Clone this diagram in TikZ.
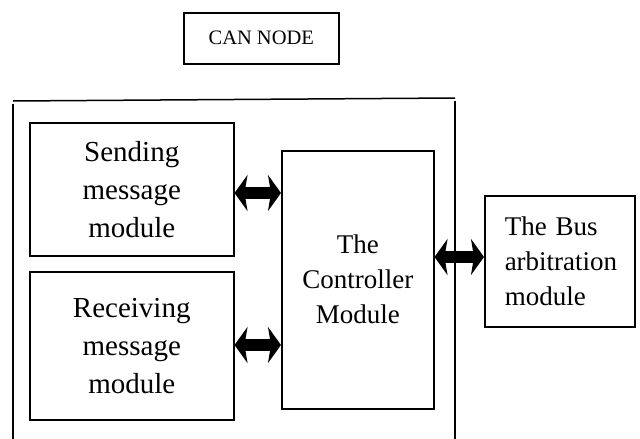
\documentclass[tikz,border=0pt]{standalone}
\usepackage{fontspec}
\setmainfont{Liberation Serif}
\usetikzlibrary{arrows.meta}
\begin{document}
\begin{tikzpicture}[x=1pt,y=-1pt,
  box/.style={draw=black,line width=1.5pt,rectangle,anchor=north west,inner sep=0pt,align=center},
  bigtext/.style={font=\fontsize{29}{38}\selectfont},
  midtext/.style={font=\fontsize{27}{35}\selectfont},
  dbl/.style={line width=12pt,{Stealth[length=13pt,width=36pt,inset=3pt]}-{Stealth[length=13pt,width=36pt,inset=3pt]}},
  frame/.style={line width=1.5pt}]
\useasboundingbox (0,0) rectangle (640,439);
\fill[white] (0,0) rectangle (640,439);
% CAN node label
\node[box,minimum width=155pt,minimum height=51pt,font=\fontsize{20.5}{24}\selectfont] (can) at (183,12) {CAN NODE};
% outer frame
\draw[frame] (13,101) -- (455,98);
\draw[frame] (13,104) -- (13,439);
\draw[frame] (455,101) -- (455,439);
% modules
\node[box,bigtext,minimum width=204pt,minimum height=133pt] (send) at (29,122) {Sending\\message\\module};
\node[box,bigtext,minimum width=204pt,minimum height=148pt] (recv) at (29,271) {Receiving\\message\\module};
\node[box,midtext,minimum width=152pt,minimum height=258pt] (ctrl) at (281,150) {The\\Controller\\Module};
\node[box,midtext,minimum width=150pt,minimum height=131pt,text width=110pt,inner xsep=20pt,align=left] (bus) at (484,195) {The Bus\\arbitration\\module};
% connectors
\coordinate (y1) at (0,193);
\coordinate (y2) at (0,345);
\coordinate (y3) at (0,257);
\draw[dbl] (send.east |- y1) -- (ctrl.west |- y1);
\draw[dbl] (recv.east |- y2) -- (ctrl.west |- y2);
\draw[dbl] (ctrl.east |- y3) -- (bus.west |- y3);
\end{tikzpicture}
\end{document}
